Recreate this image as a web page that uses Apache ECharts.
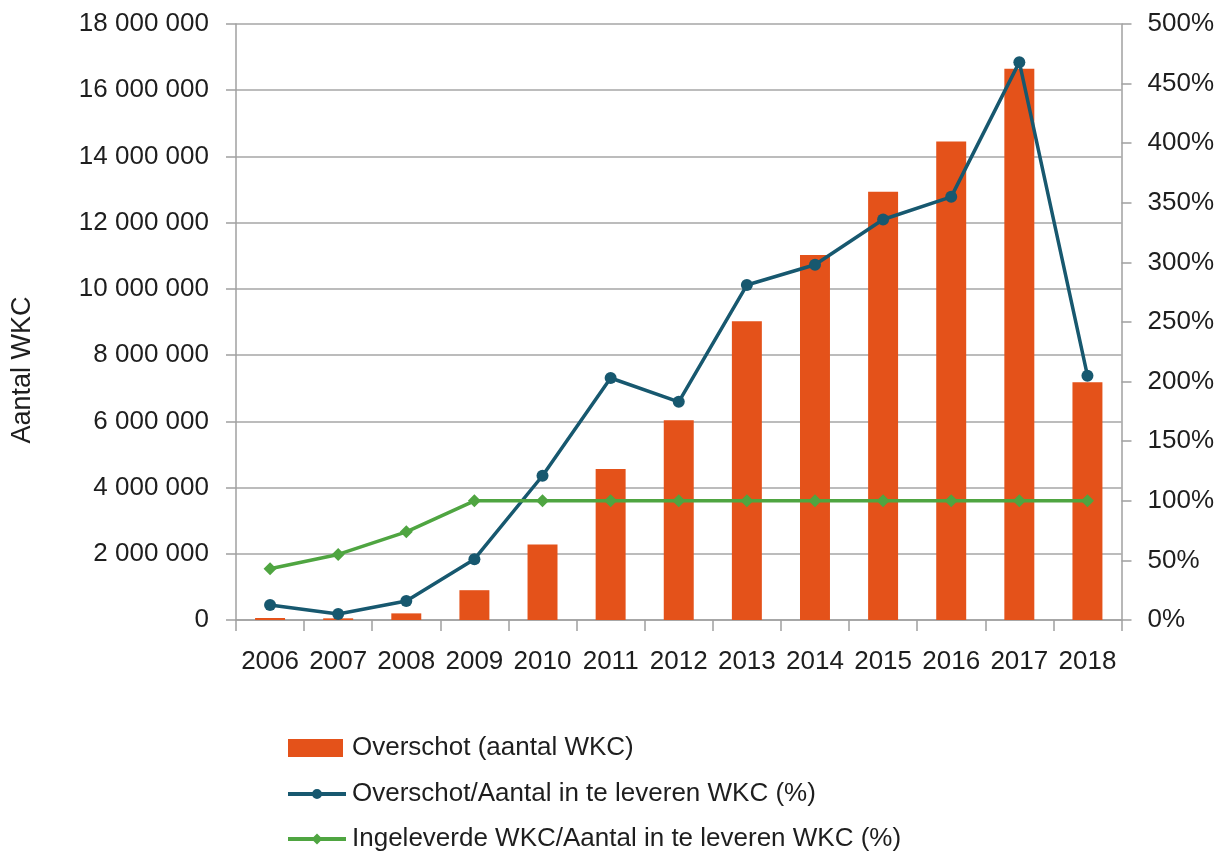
<!DOCTYPE html>
<html>
<head>
<meta charset="utf-8">
<script src="https://cdn.jsdelivr.net/npm/echarts@6/dist/echarts.min.js"></script>
<style>
html,body{margin:0;padding:0;background:#fff;}
#chart{width:1217px;height:852px;}
</style>
</head>
<body>
<div id="chart"></div>
<script>
// categories
var years = ['2006','2007','2008','2009','2010','2011','2012','2013','2014','2015','2016','2017','2018'];
// Overschot (aantal WKC)
var overschot = [60000, 50000, 200000, 900000, 2280000, 4560000, 6030000, 9020000, 11020000, 12930000, 14450000, 16650000, 7180000];
// Overschot/Aantal in te leveren WKC (%)
var overschotPct = [12.6, 5, 16, 51, 121, 203, 183, 281, 298, 336, 355, 468, 205];
// Ingeleverde WKC/Aantal in te leveren WKC (%)
var ingeleverdPct = [43, 55, 74, 100, 100, 100, 100, 100, 100, 100, 100, 100, 100];

var fontFam = '"Liberation Sans", Arial, sans-serif';
var txt = '#1e1e1e';
var axisGrey = '#a0a0a0';

var myChart = echarts.init(document.getElementById('chart'));

// legend icons: line with small marker
var circleIcon = 'path://M0,3.5H58V7.5H0Z M29,0.5A5,5,0,1,1,29,10.5A5,5,0,1,1,29,0.5Z';
var diamondIcon = 'path://M0,3.5H58V7.5H0Z M29,0L34.5,5.5L29,11L23.5,5.5Z';

function legendBox(top, name, icon, w, h, pad) {
    return {
        orient: 'vertical',
        left: 288,
        top: top,
        padding: 0,
        itemWidth: w,
        itemHeight: h,
        textStyle: { fontFamily: fontFam, fontSize: 26, color: txt, padding: [0, 0, 0, pad] },
        data: [{ name: name, icon: icon }]
    };
}

var option = {
    backgroundColor: '#fff',
    animation: false,
    textStyle: { fontFamily: fontFam, color: txt },
    grid: { left: 236, right: 95, top: 24, bottom: 232 },
    legend: [
        legendBox(735, 'Overschot (aantal WKC)', 'rect', 55, 18, 4),
        legendBox(781, 'Overschot/Aantal in te leveren WKC (%)', circleIcon, 58, 10, 1),
        legendBox(826, 'Ingeleverde WKC/Aantal in te leveren WKC (%)', diamondIcon, 58, 11, 1)
    ],
    graphic: [{
        type: 'text',
        x: 23,
        y: 370,
        rotation: Math.PI / 2,
        style: {
            text: 'Aantal WKC',
            fontFamily: fontFam,
            fontSize: 27,
            fill: txt,
            align: 'center',
            verticalAlign: 'middle'
        }
    }],
    xAxis: {
        type: 'category',
        data: years,
        axisLine: { lineStyle: { color: axisGrey, width: 1.5 } },
        axisTick: { show: true, length: 11, interval: 0, lineStyle: { color: axisGrey, width: 1.5 } },
        axisLabel: { fontSize: 26, color: txt, margin: 29, interval: 0, fontFamily: fontFam }
    },
    yAxis: [{
        type: 'value',
        min: 0,
        max: 18000000,
        interval: 2000000,
        axisLine: { show: true, lineStyle: { color: axisGrey, width: 1.5 } },
        axisTick: { show: true, length: 10, lineStyle: { color: axisGrey, width: 1.5 } },
        splitLine: { lineStyle: { color: '#a6a6a6', width: 1.5 } },
        axisLabel: {
            fontSize: 26, color: txt, margin: 27, fontFamily: fontFam,
            formatter: function (v) {
                return String(v).replace(/\B(?=(\d{3})+(?!\d))/g, ' ');
            }
        }
    }, {
        type: 'value',
        min: 0,
        max: 500,
        interval: 50,
        position: 'right',
        axisLine: { show: true, lineStyle: { color: axisGrey, width: 1.5 } },
        axisTick: { show: true, length: 10, lineStyle: { color: axisGrey, width: 1.5 } },
        splitLine: { show: false },
        axisLabel: {
            fontSize: 26, color: txt, margin: 26, fontFamily: fontFam,
            formatter: '{value}%'
        }
    }],
    series: [{
        name: 'Overschot (aantal WKC)',
        type: 'bar',
        data: overschot,
        barWidth: '44%',
        itemStyle: { color: '#e4521a' }
    }, {
        name: 'Overschot/Aantal in te leveren WKC (%)',
        type: 'line',
        yAxisIndex: 1,
        data: overschotPct,
        symbol: 'circle',
        symbolSize: 12,
        lineStyle: { color: '#17586f', width: 3.5 },
        itemStyle: { color: '#17586f' }
    }, {
        name: 'Ingeleverde WKC/Aantal in te leveren WKC (%)',
        type: 'line',
        yAxisIndex: 1,
        data: ingeleverdPct,
        symbol: 'diamond',
        symbolSize: 13,
        lineStyle: { color: '#4fa541', width: 3.5 },
        itemStyle: { color: '#4fa541' }
    }]
};

myChart.setOption(option);
</script>
</body>
</html>
